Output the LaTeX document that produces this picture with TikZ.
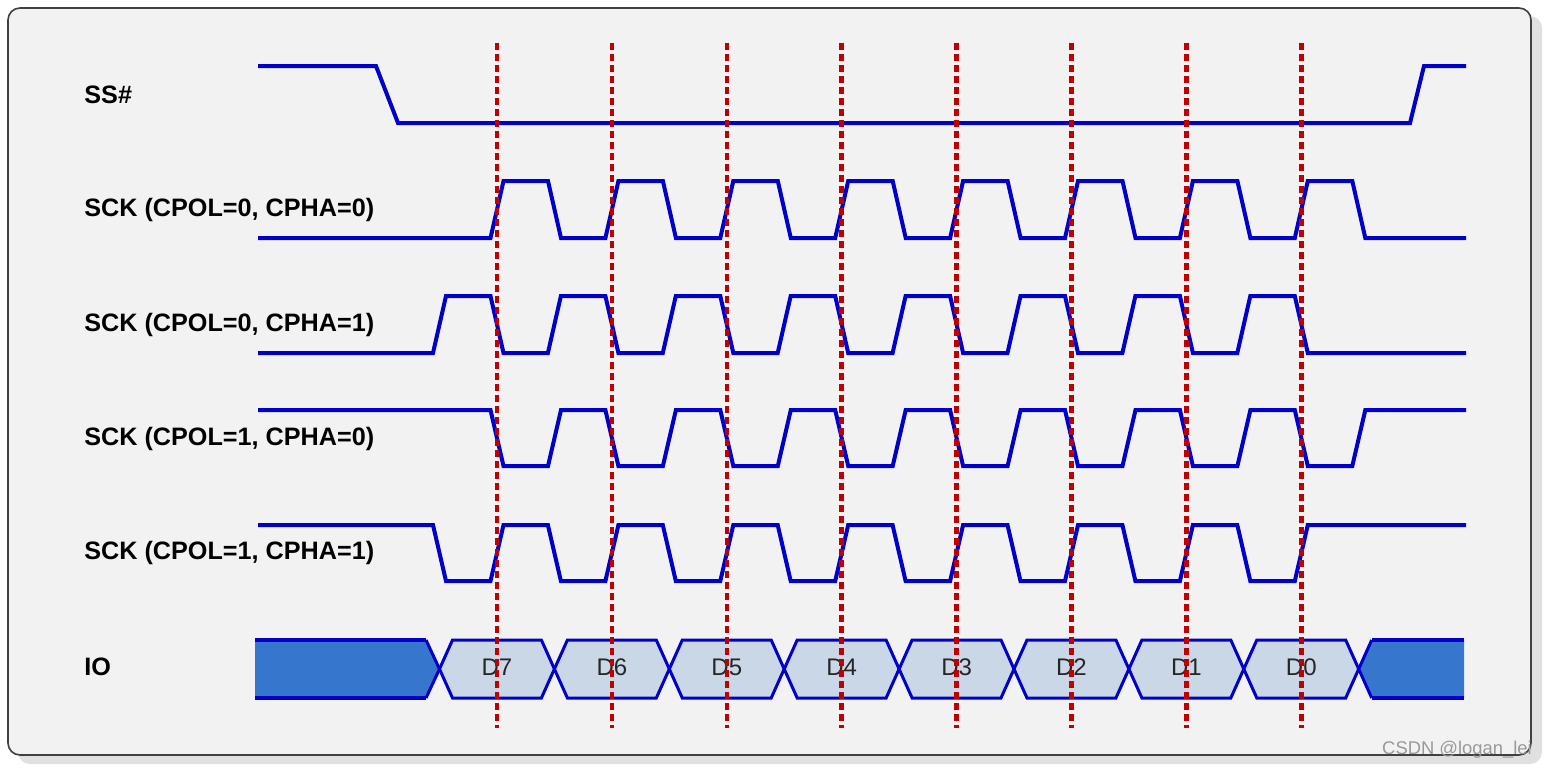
\documentclass[tikz,border=0pt]{standalone}
\usepackage{fontspec}
\setmainfont{Liberation Sans}
\usepackage{xcolor}
\definecolor{wire}{HTML}{0000C8}
\definecolor{sample}{HTML}{C00000}
\definecolor{busfill}{HTML}{3676CC}
\definecolor{cellfill}{HTML}{C9D7E7}
\definecolor{panel}{HTML}{F2F2F2}

\begin{document}
\begin{tikzpicture}[
    x=0.5pt, y=-0.5pt,
    sig/.style={anchor=west, inner sep=0pt, font=\fontsize{12.6}{15}\selectfont\bfseries},
    bit/.style={inner sep=0pt, text=black!85, font=\fontsize{12}{14}\selectfont},
    wave/.style={wire, line width=2pt},
    cell/.style={draw=wire, fill=cellfill, line width=1.5pt},
    bus/.style={wire, line width=2.4pt},
    strobe/.style={sample, line width=2.3pt, dash pattern=on 3.5pt off 2pt}
]
\useasboundingbox (0,0) rectangle (1548,773);
\fill[black!12, rounded corners=6pt] (18,16) rectangle (1542,764);
\draw[black!75, fill=panel, line width=0.8pt, rounded corners=6pt] (8,8) rectangle (1531,755);

\node[sig] (ss) at (84,95) {SS\#};
\node[sig] (sck00) at (84,210) {SCK (CPOL=0, CPHA=0)};
\node[sig] (sck01) at (84,325) {SCK (CPOL=0, CPHA=1)};
\node[sig] (sck10) at (84,439) {SCK (CPOL=1, CPHA=0)};
\node[sig] (sck11) at (84,553) {SCK (CPOL=1, CPHA=1)};
\node[sig] (io) at (84,667) {IO};

% slave select
\draw[wave] (258,66) -- (376,66) -- (398,123) -- (1410,123) -- (1424,66) -- (1466,66);

% the four clock modes
\foreach \e/\ya/\yb in {497/238/181, 439.5/353/296, 497/410/466, 439.5/525/581}
  \draw[wave] (258,\ya) \foreach \k in {0,...,7} {
      -- ({\e+114.9*\k-6.5},\ya) -- ({\e+114.9*\k+6.5},\yb)
      -- ({\e+114.9*\k+51},\yb) -- ({\e+114.9*\k+64},\ya)} -- (1466,\ya);

% data line
\fill[busfill] (255,640) -- (426,640) -- (439.5,669) -- (426,698) -- (255,698) -- cycle;
\draw[bus] (255,640) -- (426,640) (255,698) -- (426,698);
\draw[wire, line width=1.5pt] (426,640) -- (439.5,669) -- (426,698);
\foreach \k [evaluate=\k as \n using int(7-\k)] in {0,...,7} {
  \draw[cell] ({439.5+114.9*\k},669) -- ++(13,-29) -- ++(88.9,0) -- ++(13,29)
      -- ++(-13,29) -- ++(-88.9,0) -- cycle;
  \node[bit] (d\n) at ({497+114.9*\k},667) {D\n};
}
\fill[busfill] (1358.7,669) -- (1371.7,640) -- (1464,640) -- (1464,698) -- (1371.7,698) -- cycle;
\draw[bus] (1464,640) -- (1371.7,640) (1371.7,698) -- (1464,698);
\draw[wire, line width=1.5pt] (1371.7,640) -- (1358.7,669) -- (1371.7,698);

% sampling points
\foreach \k in {0,...,7}
  \draw[strobe] ({497+114.9*\k},43) -- ({497+114.9*\k},728);

\node[text=black!40, font=\fontsize{9.2}{11}\selectfont] (mark) at (1457,750) {CSDN @logan\_lei};
\end{tikzpicture}
\end{document}
